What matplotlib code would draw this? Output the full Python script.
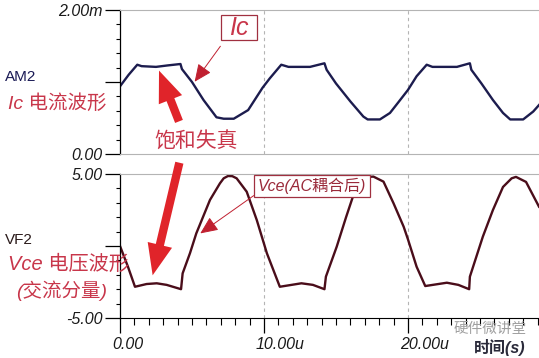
import matplotlib.pyplot as plt
from matplotlib.patches import FancyArrowPatch, Rectangle
from matplotlib.ticker import MultipleLocator
from matplotlib.transforms import ScaledTranslation

plt.rcParams['font.family'] = ['Liberation Sans', 'Noto Sans CJK SC']

# --- data (time in us) ---
t_ic = [0.0, 0.6, 1.2, 1.5, 2.5, 3.3, 4.2, 4.3, 5.0, 5.8, 6.7, 7.2, 7.9, 8.9, 9.9,
        10.4, 11.2, 11.7, 13.2, 14.2, 14.35, 15.0, 16.0, 16.9, 17.2, 18.05, 18.75,
        19.3, 20.0, 20.6, 21.3, 21.7, 23.4, 24.3, 24.4, 25.1, 25.9, 26.6, 27.1,
        28.0, 28.7, 29.1]
ic_ma = [0.94, 1.10, 1.24, 1.22, 1.21, 1.23, 1.25, 1.18, 1.00, 0.75, 0.51, 0.49,
         0.49, 0.61, 0.92, 1.05, 1.24, 1.21, 1.21, 1.26, 1.17, 0.98, 0.73, 0.52,
         0.48, 0.48, 0.57, 0.71, 0.89, 1.08, 1.24, 1.21, 1.21, 1.26, 1.17, 0.98,
         0.75, 0.57, 0.48, 0.48, 0.59, 0.68]

t_vce = [0.0, 0.56, 1.04, 1.85, 2.55, 3.24, 4.24, 4.35, 4.86, 5.3, 6.25, 6.94, 7.2,
         7.5, 7.8, 8.1, 8.8, 9.5, 10.2, 11.1, 12.6, 13.4, 14.2, 14.3, 15.05, 15.7,
         16.3, 16.9, 17.3, 17.6, 18.3, 19.0, 19.7, 20.0, 20.6, 21.2, 22.7, 23.5,
         24.25, 24.3, 25.2, 25.9, 26.6, 27.2, 27.5, 28.2, 29.1]
vce_v = [0.0, -1.46, -2.83, -2.64, -2.59, -2.7, -3.0, -1.9, -0.5, 0.88, 3.2, 4.35,
         4.7, 4.86, 4.85, 4.7, 3.77, 1.8, -0.5, -2.83, -2.59, -2.7, -3.0, -2.13,
         -0.05, 2.0, 3.8, 4.6, 4.8, 4.82, 4.47, 2.96, 1.34, 0.46, -1.44, -2.78,
         -2.55, -2.7, -3.0, -2.13, 0.65, 2.5, 4.1, 4.7, 4.8, 4.45, 2.73]

x_ticks = [0, 10, 20]
x_labels = ['0.00', '10.00u', '20.00u']
ic_ticks = [0, 1, 2]
ic_labels = ['0.00', '', '2.00m']
vce_ticks = [-5, 0, 5]
vce_labels = ['-5.00', '', '5.00']

W, H = 539, 358
fig = plt.figure(figsize=(W / 100, H / 100), dpi=100)


def fx(px):
    return px / W


def fy(py):
    return 1 - py / H


ic_col = '#1c1c4e'
vce_col = '#4a0d1a'
red_txt = '#c8364a'
grey = '#b4b4b4'
tick_txt = '#1a1a1a'

ax1 = fig.add_axes([fx(120), fy(154), 1 - fx(120), fy(10) - fy(154)])
ax2 = fig.add_axes([fx(120), fy(318), 1 - fx(120), fy(174) - fy(318)])

for ax in (ax1, ax2):
    ax.set_xlim(0, 29.1)
    ax.spines['right'].set_visible(False)
    ax.spines['top'].set_color(grey)
    ax.spines['left'].set_linewidth(0.9)
    for xv in x_ticks[1:]:
        ax.axvline(xv, color=grey, lw=0.8, ls=(0, (3, 3)), zorder=0)
    ax.tick_params(axis='y', which='major', length=11, width=0.9, pad=1.5,
                   labelsize=11.5, labelcolor=tick_txt)
    ax.tick_params(axis='y', which='minor', length=3, width=0.8)

# top: collector current
ax1.plot(t_ic, ic_ma, color=ic_col, lw=1.7)
ax1.set_ylim(0, 2)
ax1.spines['bottom'].set_color(grey)
ax1.set_yticks(ic_ticks)
ax1.set_yticklabels(ic_labels, fontstyle='italic')
ax1.yaxis.set_minor_locator(MultipleLocator(0.2))
ax1.set_xticks([])

# bottom: Vce (AC part)
ax2.plot(t_vce, vce_v, color=vce_col, lw=1.7)
ax2.set_ylim(-5, 5)
ax2.set_yticks(vce_ticks)
ax2.set_yticklabels(vce_labels, fontstyle='italic')
ax2.yaxis.set_minor_locator(MultipleLocator(1))
ax2.set_xticks(x_ticks)
ax2.set_xticklabels(x_labels, fontstyle='italic', ha='left')
ax2.xaxis.set_minor_locator(MultipleLocator(1))
ax2.tick_params(axis='x', which='major', length=11, width=0.9, pad=3,
                labelsize=11.5, labelcolor=tick_txt)
ax2.tick_params(axis='x', which='minor', length=5, width=0.8)
shift = ScaledTranslation(-8 / 100, 0, fig.dpi_scale_trans)
for lbl in ax2.get_xticklabels():
    lbl.set_transform(lbl.get_transform() + shift)

# side labels
fig.text(fx(5), fy(77), 'AM2', color='#1a1a55', fontsize=11, va='center')
fig.text(fx(5), fy(240), 'VF2', color='#2a1a1a', fontsize=11, va='center')
fig.text(fx(8), fy(103), 'Ic 电流波形', color=red_txt, fontsize=14,
         fontstyle='italic', va='center')
fig.text(fx(8), fy(264), 'Vce 电压波形', color=red_txt, fontsize=14.5,
         fontstyle='italic', va='center')
fig.text(fx(16), fy(291), '(交流分量)', color=red_txt, fontsize=14,
         fontstyle='italic', va='center')
fig.text(fx(196), fy(142), '饱和失真', color=red_txt, fontsize=15,
         ha='center', va='center')

# callout boxes
box_edge = '#a03040'
fig.patches.append(Rectangle((fx(221), fy(40)), fx(257) - fx(221), fy(15) - fy(40),
                             transform=fig.transFigure, facecolor='white',
                             edgecolor=box_edge, lw=0.9, zorder=5))
fig.text(fx(239), fy(28), 'Ic', color=red_txt, fontsize=18, fontstyle='italic',
         ha='center', va='center', zorder=6)
fig.patches.append(Rectangle((fx(254), fy(197)), fx(370) - fx(254), fy(175) - fy(197),
                             transform=fig.transFigure, facecolor='white',
                             edgecolor=box_edge, lw=0.9, zorder=5))
fig.text(fx(312), fy(186), 'Vce(AC耦合后)', color='#9a2a3a', fontsize=11.5,
         fontstyle='italic', ha='center', va='center', zorder=6)

# thin pointer arrows
for (x0, y0), (x1, y1) in [((222, 44), (193, 84)), ((256, 194), (198, 235))]:
    fig.patches.append(FancyArrowPatch((fx(x0), fy(y0)), (fx(x1), fy(y1)),
                                       transform=fig.transFigure,
                                       arrowstyle='-|>,head_length=0.9,head_width=0.4',
                                       mutation_scale=12, color='#c02030', lw=0.7,
                                       zorder=7))

# big red arrows
for (x0, y0), (x1, y1) in [((180, 124), (158, 68)), ((180, 160), (152, 278))]:
    fig.patches.append(FancyArrowPatch((fx(x0), fy(y0)), (fx(x1), fy(y1)),
                                       transform=fig.transFigure,
                                       arrowstyle='simple,head_length=1.5,head_width=1.2,tail_width=0.4',
                                       mutation_scale=15, color='#e0242a', lw=0,
                                       zorder=7))

# watermark and axis title
fig.text(fx(490), fy(329), '硬件微讲堂', color='#a0a0a0', fontsize=10.5,
         ha='center', va='center')
fig.text(fx(500), fy(347), '时间(s)', color='#2a2a3a', fontsize=11.5,
         fontweight='bold', fontstyle='italic', ha='center', va='center')

fig.savefig('out.png', dpi=100)
